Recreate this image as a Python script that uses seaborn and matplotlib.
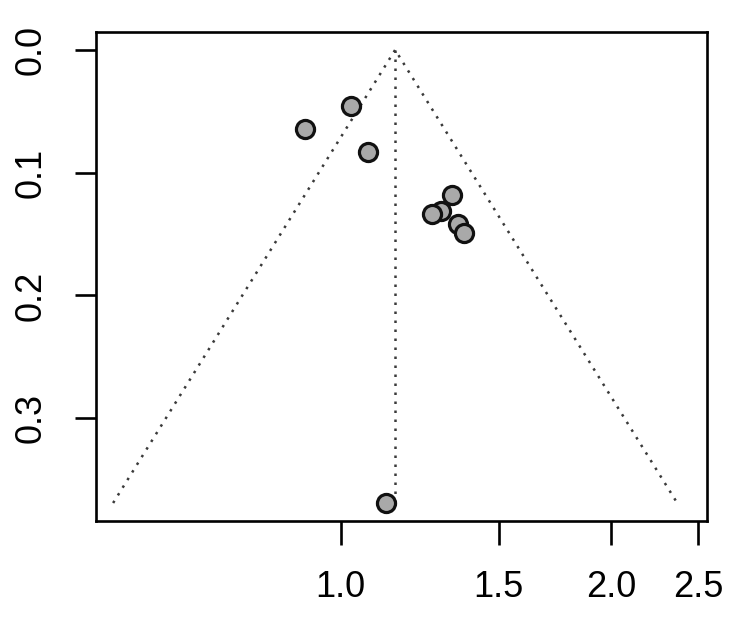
import numpy as np
import pandas as pd
import seaborn as sns
import matplotlib
matplotlib.use('Agg')
import matplotlib.pyplot as plt
from matplotlib.ticker import FixedLocator, NullLocator

# study estimates (ratio scale) and standard errors
ratio = [1.027, 0.912, 1.072, 1.330, 1.294, 1.265, 1.351, 1.372, 1.123]
se = [0.0456, 0.0645, 0.0831, 0.1182, 0.1313, 0.1339, 0.1417, 0.1492, 0.3690]
pooled = 1.150  # pooled estimate (funnel apex)

x_ticks = [1.0, 1.5, 2.0, 2.5]
x_labels = ["1.0", "1.5", "2.0", "2.5"]
y_ticks = [0.0, 0.1, 0.2, 0.3]
y_labels = ["0.0", "0.1", "0.2", "0.3"]

df = pd.DataFrame({"ratio": ratio, "se": se})

sns.set_style("white")
plt.rcParams['font.family'] = ['Liberation Sans', 'DejaVu Sans']

fig = plt.figure(figsize=(7.5, 6.24), dpi=100)
ax = fig.add_axes([0.128, 0.165, 0.815, 0.784])

# funnel: pooled +/- 1.96 * se on the log scale
se_max = max(se)
se_line = np.array([se_max, 0.0, se_max])
lo = np.exp(np.log(pooled) - 1.96 * se_max)
hi = np.exp(np.log(pooled) + 1.96 * se_max)
dots = (0, (1, 2.6))
ax.plot([lo, pooled, hi], se_line, color="#3a3a3a", lw=1.8, ls=dots, zorder=1)
ax.plot([pooled, pooled], [0.0, se_max], color="#3a3a3a", lw=1.8, ls=dots, zorder=1)

sns.scatterplot(data=df, x="ratio", y="se", ax=ax, s=170, color="#A9A9A9",
                edgecolor="#111111", linewidth=2.3, zorder=3, legend=False)

ax.set_xscale("log")
ax.set_xlim(0.534, 2.56)
ax.set_ylim(0.3837, -0.0147)
ax.xaxis.set_major_locator(FixedLocator(x_ticks))
ax.xaxis.set_minor_locator(NullLocator())
ax.set_xticklabels(x_labels)
ax.set_yticks(y_ticks)
ax.set_yticklabels(y_labels, rotation=90, va="center")
ax.set_xlabel("")
ax.set_ylabel("")

for sp in ax.spines.values():
    sp.set_visible(True)
    sp.set_color("black")
    sp.set_linewidth(1.9)

ax.tick_params(axis="x", length=17, width=1.9, color="black", labelcolor="black",
               labelsize=26, pad=18, direction="out")
ax.tick_params(axis="y", length=15, width=1.9, color="black", labelcolor="black",
               labelsize=26, pad=19, direction="out")
ax.tick_params(bottom=True, left=True)

fig.savefig("out.png", dpi=100, facecolor="white")
